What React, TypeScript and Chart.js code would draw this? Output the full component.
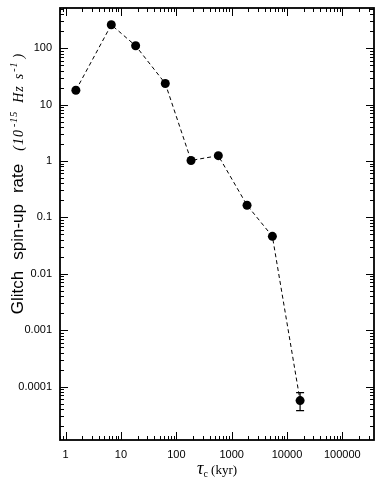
import React, { useEffect, useRef } from "react";
import { Chart, registerables } from "chart.js";

Chart.register(...registerables);

// Characteristic age tau_c (kyr)
const tauC = [1.53, 6.68, 18.4, 63.2, 184.5, 574, 1897, 5450, 17260];
// Glitch spin-up rate (1e-15 Hz s^-1)
const spinUpRate = [17.9, 259, 110, 23.6, 1.02, 1.24, 0.164, 0.046, 0.0000564];
// Error bars (null = none)
const errLow: (number | null)[] = [null, null, null, null, null, null, null, null, 0.0000375];
const errHigh: (number | null)[] = [null, null, null, null, null, null, null, null, 0.000078];

const xTickValues = [1, 10, 100, 1000, 10000, 100000];
const yTickValues = [0.0001, 0.001, 0.01, 0.1, 1, 10, 100];

const X_MIN = 0.79;
const X_MAX = 374000;
const Y_MIN = 0.0000113;
const Y_MAX = 514;

function fmtPow(v: number): string {
  const e = Math.round(Math.log10(v));
  if (e >= 0) return String(Math.pow(10, e));
  return "0." + "0".repeat(-e - 1) + "1";
}

function isDecade(v: number, list: number[]): boolean {
  return list.some((t) => Math.abs(Math.log10(v) - Math.log10(t)) < 1e-6);
}

const SANS = "'Liberation Sans', Arial, Helvetica, sans-serif";
const SERIF = "'Liberation Serif', 'Times New Roman', serif";

const framePlugin = {
  id: "frameTicks",
  afterDatasetsDraw(chart: any) {
    const ctx = chart.ctx as CanvasRenderingContext2D;
    const { left, right, top, bottom } = chart.chartArea;
    const xs = chart.scales.x;
    const ys = chart.scales.y;
    ctx.save();
    ctx.strokeStyle = "#000";
    // error bars
    ctx.lineWidth = 1.2;
    for (let i = 0; i < tauC.length; i++) {
      const lo = errLow[i];
      const hi = errHigh[i];
      if (lo == null || hi == null) continue;
      const px = xs.getPixelForValue(tauC[i]);
      const pLo = ys.getPixelForValue(lo);
      const pHi = ys.getPixelForValue(hi);
      ctx.beginPath();
      ctx.moveTo(px, pLo);
      ctx.lineTo(px, pHi);
      ctx.moveTo(px - 4, pLo);
      ctx.lineTo(px + 4, pLo);
      ctx.moveTo(px - 4, pHi);
      ctx.lineTo(px + 4, pHi);
      ctx.stroke();
    }
    // ticks (inward, on all four sides)
    ctx.lineWidth = 1;
    const minorLen = 4;
    const majorLen = 8;
    for (let e = -1; e <= 6; e++) {
      for (let m = 1; m <= 9; m++) {
        const v = m * Math.pow(10, e);
        if (v < X_MIN || v > X_MAX) continue;
        const px = Math.round(xs.getPixelForValue(v)) + 0.5;
        const len = m === 1 ? majorLen : minorLen;
        ctx.beginPath();
        ctx.moveTo(px, bottom);
        ctx.lineTo(px, bottom - len);
        ctx.moveTo(px, top);
        ctx.lineTo(px, top + len);
        ctx.stroke();
      }
    }
    for (let e = -6; e <= 3; e++) {
      for (let m = 1; m <= 9; m++) {
        const v = m * Math.pow(10, e);
        if (v < Y_MIN || v > Y_MAX) continue;
        const py = Math.round(ys.getPixelForValue(v)) + 0.5;
        const len = m === 1 ? majorLen : minorLen;
        ctx.beginPath();
        ctx.moveTo(left, py);
        ctx.lineTo(left + len, py);
        ctx.moveTo(right, py);
        ctx.lineTo(right - len, py);
        ctx.stroke();
      }
    }
    // frame
    ctx.lineWidth = 1.8;
    ctx.strokeRect(left, top, right - left, bottom - top);

    // x title: tau_c (kyr)
    const cx = (left + right) / 2;
    const ty = 471;
    ctx.fillStyle = "#000";
    ctx.textBaseline = "middle";
    ctx.textAlign = "left";
    ctx.font = `italic 18px ${SERIF}`;
    const tauW = ctx.measureText("τ").width;
    ctx.font = `10px ${SERIF}`;
    const cW = ctx.measureText("c").width;
    ctx.font = `13px ${SERIF}`;
    const kyrW = ctx.measureText(" (kyr)").width;
    let x0 = cx - (tauW + cW + kyrW) / 2;
    ctx.font = `italic 18px ${SERIF}`;
    ctx.fillText("τ", x0, ty - 2);
    x0 += tauW;
    ctx.font = `10px ${SERIF}`;
    ctx.fillText("c", x0, ty + 3);
    x0 += cW;
    ctx.font = `13px ${SERIF}`;
    ctx.fillText(" (kyr)", x0, ty);

    // y title, drawn as segments along the rotated baseline
    const segs: { t: string; f: string; dy: number; gap: number; ls: number }[] = [
      { t: "Glitch", f: `17px ${SANS}`, dy: 0, gap: 11, ls: 0 },
      { t: "spin-up", f: `17px ${SANS}`, dy: 0, gap: 11, ls: 0 },
      { t: "rate", f: `17px ${SANS}`, dy: 0, gap: 13, ls: 0 },
      { t: "(10", f: `italic 14px ${SERIF}`, dy: 0, gap: 2, ls: 1 },
      { t: "-15", f: `italic 10px ${SERIF}`, dy: -6, gap: 8, ls: 1 },
      { t: "Hz", f: `italic 14px ${SERIF}`, dy: 0, gap: 6, ls: 1 },
      { t: "s", f: `italic 14px ${SERIF}`, dy: 0, gap: 1, ls: 1 },
      { t: "-1", f: `italic 10px ${SERIF}`, dy: -6, gap: 3, ls: 1 },
      { t: ")", f: `italic 14px ${SERIF}`, dy: 0, gap: 0, ls: 0 },
    ];
    const measure = (s: { t: string; f: string; ls: number }) => {
      ctx.font = s.f;
      return ctx.measureText(s.t).width + s.ls * s.t.length;
    };
    let total = 0;
    const widths = segs.map((s, i) => {
      const w = measure(s);
      total += w + (i < segs.length - 1 ? s.gap : 0);
      return w;
    });
    ctx.save();
    ctx.translate(17, 184);
    ctx.rotate(-Math.PI / 2);
    ctx.textBaseline = "alphabetic";
    let yx = -total / 2;
    segs.forEach((s, i) => {
      ctx.font = s.f;
      if (s.ls > 0) {
        let cx2 = yx;
        for (const ch of s.t) {
          ctx.fillText(ch, cx2, 6 + s.dy);
          cx2 += ctx.measureText(ch).width + s.ls;
        }
      } else {
        ctx.fillText(s.t, yx, 6 + s.dy);
      }
      yx += widths[i] + s.gap;
    });
    ctx.restore();

    ctx.restore();
  },
};

export default function App() {
  const ref = useRef<HTMLCanvasElement | null>(null);
  useEffect(() => {
    if (!ref.current) return;
    const chart = new Chart(ref.current, {
      type: "line",
      data: {
        datasets: [
          {
            data: tauC.map((x, i) => ({ x, y: spinUpRate[i] })),
            borderColor: "#000",
            backgroundColor: "#000",
            borderWidth: 1,
            borderDash: [4, 3],
            pointRadius: 4.5,
            pointBackgroundColor: "#000",
            pointBorderColor: "#000",
            pointBorderWidth: 0,
            fill: false,
            tension: 0,
          },
        ],
      },
      options: {
        animation: false,
        responsive: false,
        maintainAspectRatio: false,
        layout: { padding: { top: 8, right: 8, left: 0, bottom: 0 } },
        plugins: {
          legend: { display: false },
          tooltip: { enabled: false },
          title: { display: false },
        },
        scales: {
          x: {
            type: "logarithmic",
            min: X_MIN,
            max: X_MAX,
            grid: { display: false, drawTicks: false },
            border: { display: false },
            afterFit(scale: any) {
              scale.height = 42;
              scale.paddingLeft = 0;
              scale.paddingRight = 0;
            },
            afterBuildTicks(scale: any) {
              scale.ticks = xTickValues.map((v) => ({ value: v }));
            },
            ticks: {
              autoSkip: false,
              maxRotation: 0,
              padding: 8,
              color: "#000",
              font: { family: SANS, size: 11 },
              callback: (v: any) => (isDecade(Number(v), xTickValues) ? fmtPow(Number(v)) : ""),
            },
          },
          y: {
            type: "logarithmic",
            min: Y_MIN,
            max: Y_MAX,
            grid: { display: false, drawTicks: false },
            border: { display: false },
            afterFit(scale: any) {
              scale.width = 60;
              scale.paddingTop = 0;
              scale.paddingBottom = 0;
            },
            afterBuildTicks(scale: any) {
              scale.ticks = yTickValues.map((v) => ({ value: v }));
            },
            ticks: {
              autoSkip: false,
              padding: 8,
              color: "#000",
              font: { family: SANS, size: 11 },
              callback: (v: any) => (isDecade(Number(v), yTickValues) ? fmtPow(Number(v)) : ""),
            },
          },
        },
      },
      plugins: [framePlugin],
    } as any);
    return () => chart.destroy();
  }, []);
  return (
    <div style={{ position: "fixed", left: 0, top: 0, width: 382, height: 482, background: "#fff" }}>
      <canvas ref={ref} width={382} height={482} style={{ display: "block", width: 382, height: 482 }} />
    </div>
  );
}
